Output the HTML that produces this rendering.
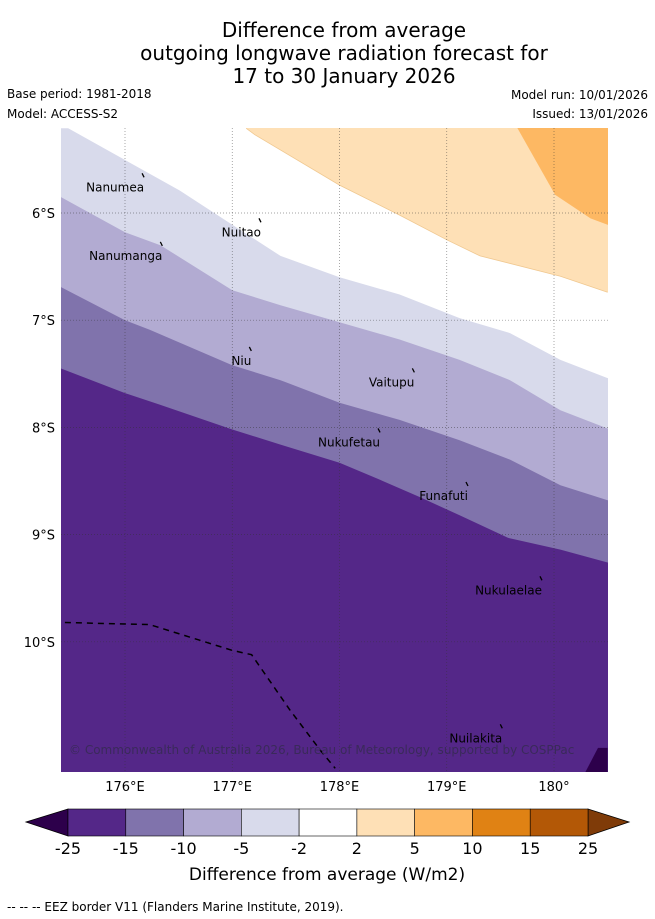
<!DOCTYPE html>
<html><head><meta charset="utf-8"><style>
body{margin:0;background:#fff;font-family:"DejaVu Sans","Liberation Sans",sans-serif}
svg{display:block}
</style></head><body>
<svg id="c" width="655" height="919" viewBox="0 0 655 919">
<g font-size="20" text-anchor="middle" fill="#000">
<text x="344" y="37">Difference from average</text>
<text x="344" y="60">outgoing longwave radiation forecast for</text>
<text x="344" y="83">17 to 30 January 2026</text>
</g>
<g font-size="12" fill="#000">
<text x="7" y="98">Base period: 1981-2018</text>
<text x="7" y="118">Model: ACCESS-S2</text>
<text x="648" y="99" text-anchor="end">Model run: 10/01/2026</text>
<text x="648" y="118" text-anchor="end">Issued: 13/01/2026</text>
</g>
<defs><clipPath id="mapclip"><rect x="61" y="128" width="547" height="644"/></clipPath></defs>
<g id="map" clip-path="url(#mapclip)"></g>
<g id="axes"></g>
<g id="cbar"></g>
<text x="327" y="880" font-size="17" text-anchor="middle">Difference from average (W/m2)</text>
<text x="7" y="911" font-size="12">--  --  -- EEZ border V11 (Flanders Marine Institute, 2019).</text>
</svg>
<script>
// boundaries as [lon, lat(°S)] points
const lonTicks=[176,177,178,179,180];
const latTicks=[6,7,8,9,10];
const minus2Line=[[175.40,5.21],[175.47,5.21],[176.51,5.79],[177.0,6.11],[177.45,6.40],[178.0,6.60],[178.56,6.76],[179.12,6.98],[179.59,7.12],[180.06,7.37],[180.50,7.54]];
const minus5Line=[[175.40,5.85],[176.0,6.18],[176.33,6.30],[177.0,6.72],[177.45,6.86],[178.0,7.02],[178.56,7.18],[179.12,7.37],[179.59,7.56],[180.06,7.84],[180.50,8.01]];
const minus10Line=[[175.40,6.69],[176.0,7.0],[176.23,7.09],[177.0,7.42],[177.45,7.56],[178.0,7.77],[178.56,7.93],[179.12,8.12],[179.59,8.30],[180.06,8.54],[180.50,8.68]];
const minus15Line=[[175.40,7.45],[176.0,7.68],[176.33,7.79],[177.0,8.02],[177.45,8.16],[178.0,8.33],[178.38,8.49],[178.75,8.65],[179.12,8.82],[179.57,9.03],[180.06,9.14],[180.50,9.26]];
const minus25Patch=[[180.29,11.22],[180.41,10.99],[180.50,10.99],[180.50,11.22]];
const plus2Line=[[177.13,5.21],[177.21,5.27],[178.0,5.74],[178.56,6.02],[179.0,6.25],[179.31,6.40],[180.06,6.59],[180.50,6.74]];
const plus5Line=[[179.66,5.21],[180.01,5.83],[180.34,6.05],[180.50,6.11]];
const eezLine=[[175.44,9.82],[176.23,9.84],[177.0,10.08],[177.18,10.12],[177.54,10.64],[177.82,11.01],[177.96,11.18]];
const islandNames=["Nanumea","Nuitao","Nanumanga","Niu","Vaitupu","Nukufetau","Funafuti","Nukulaelae","Nuilakita"];
const islandLon=[176.15,177.24,176.32,177.15,178.67,178.35,179.17,179.86,179.49];
const islandLat=[5.76,6.18,6.40,7.38,7.58,8.14,8.64,9.52,10.90];
const cbarLabels=["-25","-15","-10","-5","-2","2","5","10","15","25"];
const cbarColors=["#542788","#8073ac","#b2abd2","#d8daeb","#ffffff","#fee0b6","#fdb863","#e08214","#b35806"];

const X=lon=>125+(lon-176)*107.25, Y=lat=>213+(lat-6)*107.2;
const NS='http://www.w3.org/2000/svg';
function mk(t,a,p){const e=document.createElementNS(NS,t);for(const k in a)e.setAttribute(k,a[k]);p.appendChild(e);return e;}
const pts=arr=>arr.map(p=>X(p[0]).toFixed(1)+','+Y(p[1]).toFixed(1)).join(' ');
const map=document.getElementById('map');
let r=mk('rect',{x:61,y:128,width:547,height:644,fill:'#ffffff'},map);


function below(line,col,name){
 const e=mk('polygon',{points:pts([[175.3,line[0][1]]].concat(line,[[180.6,line[line.length-1][1]],[180.6,11.3],[175.3,11.3]])),fill:col},map);
 
 }
function above(line,col,name){
 const e=mk('polygon',{points:pts(line.concat([[180.6,line[line.length-1][1]],[180.6,5.1],[line[0][0],5.1]])),fill:col},map);
 
 }
above(plus2Line,'#fee0b6','band-2-to-5');
above(plus5Line,'#fdb863','band-5-to-10');
below(minus2Line,'#d8daeb','band-minus2-to-minus5');
below(minus5Line,'#b2abd2','band-minus5-to-minus10');
below(minus10Line,'#8073ac','band-minus10-to-minus15');
below(minus15Line,'#542788','band-minus15-to-minus25');
let pc=mk('polygon',{points:pts(minus25Patch),fill:'#2d004b'},map);


let pl=mk('polyline',{points:pts(plus2Line),fill:'none',stroke:'#f0c890','stroke-width':0.8},map);


lonTicks.forEach(l=>{const g=mk('line',{x1:X(l),x2:X(l),y1:128,y2:772,stroke:'#333','stroke-width':0.7,'stroke-dasharray':'1,2',opacity:0.6},map);
 
 });
latTicks.forEach(l=>{const g=mk('line',{x1:61,x2:608,y1:Y(l),y2:Y(l),stroke:'#333','stroke-width':0.7,'stroke-dasharray':'1,2',opacity:0.6},map);
 
 });
let ez=mk('polyline',{points:pts(eezLine),fill:'none',stroke:'#000','stroke-width':1.5,'stroke-dasharray':'6,5'},map);


islandNames.forEach((n,i)=>{const x=X(islandLon[i]),y=Y(islandLat[i]);
 const m=mk('line',{x1:x+1,y1:y-14,x2:x+3,y2:y-10,stroke:'#000','stroke-width':1.3},map);
 
 
 const t=mk('text',{x:x+3,y:y+4,'font-size':12,'text-anchor':'end',fill:'#000'},map);t.textContent=n;
 
 });
let cp=mk('text',{x:69,y:754,'font-size':12,fill:'#3a2a5a'},map);cp.textContent='© Commonwealth of Australia 2026, Bureau of Meteorology, supported by COSPPac';


const ax=document.getElementById('axes');
lonTicks.forEach(l=>{const t=mk('text',{x:X(l),y:791,'font-size':13,'text-anchor':'middle'},ax);t.textContent=(l===180?'180°':l+'°E');
 
 });
latTicks.forEach(l=>{const t=mk('text',{x:55,y:Y(l)+5,'font-size':13,'text-anchor':'end'},ax);t.textContent=l+'°S';
 
 });
const cb=document.getElementById('cbar');const x0=68,x1=588,w=(x1-x0)/cbarColors.length;
let lt=mk('polygon',{points:`26,822 ${x0},809 ${x0},836`,fill:'#2d004b',stroke:'#000','stroke-width':0.8},cb);


let rt=mk('polygon',{points:`629,822 ${x1},809 ${x1},836`,fill:'#7f3b08',stroke:'#000','stroke-width':0.8},cb);


cbarColors.forEach((c,i)=>{const s=mk('rect',{x:x0+i*w,y:809,width:w,height:27,fill:c,stroke:'#000','stroke-width':0.6},cb);
 
 });
cbarLabels.forEach((l,i)=>{const t=mk('text',{x:x0+i*w,y:854,'font-size':16,'text-anchor':'middle'},cb);t.textContent=l;
 
 });
</script>
</body></html>
